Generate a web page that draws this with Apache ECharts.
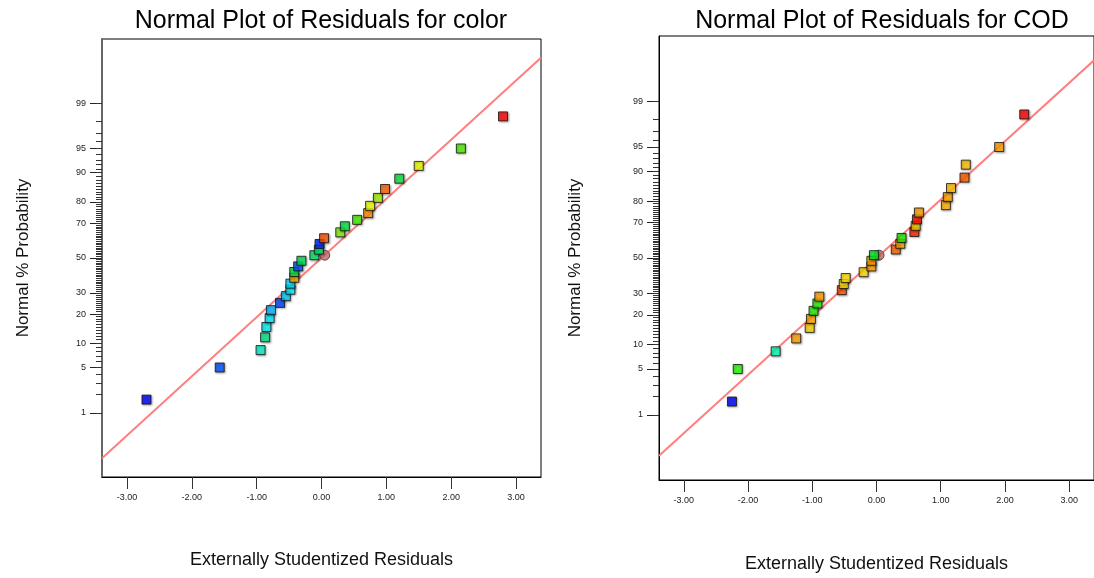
<!DOCTYPE html>
<html>
<head>
<meta charset="utf-8">
<script src="https://cdn.jsdelivr.net/npm/echarts@6/dist/echarts.min.js"></script>
<style>
html, body { margin: 0; padding: 0; background: #fff; }
#chart { width: 1094px; height: 578px; }
</style>
</head>
<body>
<div id="chart"></div>
<script>
// normal % probability of the ranked runs (30 runs, same for both plots)
var probPct = [1.67, 5, 8.33, 11.67, 15, 18.33, 21.67, 25, 28.33, 31.67,
    35, 38.33, 41.67, 45, 48.33, 51.67, 55, 58.33, 61.67, 65,
    68.33, 71.67, 75, 78.33, 81.67, 85, 88.33, 91.67, 95, 98.33];
// externally studentized residuals, sorted
var colorResid = [-2.70, -1.57, -0.94, -0.87, -0.85, -0.80, -0.78, -0.64, -0.55, -0.48,
    -0.48, -0.42, -0.42, -0.36, -0.31, -0.11, -0.04, -0.03, 0.04, 0.29,
    0.36, 0.55, 0.72, 0.75, 0.87, 0.98, 1.20, 1.50, 2.15, 2.80];
var codResid = [-2.25, -2.16, -1.57, -1.25, -1.04, -1.02, -0.98, -0.92, -0.89, -0.54,
    -0.51, -0.48, -0.20, -0.08, -0.08, -0.04, 0.30, 0.37, 0.39, 0.59,
    0.61, 0.63, 0.66, 1.08, 1.11, 1.16, 1.37, 1.39, 1.91, 2.30];
// centre point marker [residual, %]
var colorCenter = [0.05, 51.67];
var codCenter = [0.04, 51.67];
// normal reference line ends [residual, %]
var colorLine = [[-3.386, 0.131], [3.386, 99.869]];
var codLine = [[-3.386, 0.17], [3.386, 99.83]];
// tick labels
var probTicks = [1, 5, 10, 20, 30, 50, 70, 80, 90, 95, 99];
var residTicks = [-3, -2, -1, 0, 1, 2, 3];

// fill of each point (coloured by response level)
var colorFills = ['#0000ff', '#0050ff', '#00f0c8', '#00e080', '#00f0f0', '#00e8ff', '#00b4ff', '#0040ff', '#00c8ff', '#00f0ff',
    '#00e0ff', '#ffb000', '#00e040', '#0050ff', '#00e050', '#00e060', '#00e870', '#0020ff', '#ff5000', '#80f000',
    '#00e840', '#40f000', '#ff9000', '#f0ff00', '#a0f000', '#ff6000', '#10e040', '#e8ff00', '#50f000', '#ff0000'];
var codFills = ['#0000ff', '#20ff00', '#00ffb0', '#ffa000', '#ffd000', '#ffa000', '#20f000', '#20f000', '#ffa000', '#ff5000',
    '#ffe000', '#ffe000', '#ffd800', '#ffa000', '#ffa000', '#00f020', '#ff6000', '#ffa000', '#20f000', '#ff2000',
    '#ffd000', '#ff1000', '#ffa000', '#ffb000', '#ffa000', '#ffc000', '#ff6000', '#ffc000', '#ffa000', '#ff0000'];

var FONT = 'Liberation Sans, Arial, sans-serif';

// inverse normal cdf (Acklam) - probability scale of the y axis
function probit(p) {
    var a = [-3.969683028665376e+01, 2.209460984245205e+02, -2.759285104469687e+02, 1.383577518672690e+02, -3.066479806614716e+01, 2.506628277459239e+00];
    var b = [-5.447609879822406e+01, 1.615858368580409e+02, -1.556989798598866e+02, 6.680131188771972e+01, -1.328068155288572e+01];
    var c = [-7.784894002430293e-03, -3.223964580411365e-01, -2.400758277161838e+00, -2.549732539343734e+00, 4.374664141464968e+00, 2.938163982698783e+00];
    var d = [7.784695709041462e-03, 3.224671290700398e-01, 2.445134137142996e+00, 3.754408661907416e+00];
    var pl = 0.02425, q, r;
    if (p < pl) {
        q = Math.sqrt(-2 * Math.log(p));
        return (((((c[0] * q + c[1]) * q + c[2]) * q + c[3]) * q + c[4]) * q + c[5]) / ((((d[0] * q + d[1]) * q + d[2]) * q + d[3]) * q + 1);
    }
    if (p > 1 - pl) {
        q = Math.sqrt(-2 * Math.log(1 - p));
        return -(((((c[0] * q + c[1]) * q + c[2]) * q + c[3]) * q + c[4]) * q + c[5]) / ((((d[0] * q + d[1]) * q + d[2]) * q + d[3]) * q + 1);
    }
    q = p - 0.5;
    r = q * q;
    return (((((a[0] * r + a[1]) * r + a[2]) * r + a[3]) * r + a[4]) * r + a[5]) * q / (((((b[0] * r + b[1]) * r + b[2]) * r + b[3]) * r + b[4]) * r + 1);
}

var majorZ = probTicks.map(function (p) { return probit(p / 100); });
var minorZ = [];
for (var k = 1; k <= 99; k++) {
    minorZ.push(probit(k / 100));
}

function probLabel(v) {
    for (var i = 0; i < majorZ.length; i++) {
        if (Math.abs(majorZ[i] - v) < 1e-6) return String(probTicks[i]);
    }
    return '';
}

function toZ(resid) {
    return resid.map(function (x, i) { return [x, probit(probPct[i] / 100)]; });
}

function makeX(gridIndex, nameGap) {
    return {
        gridIndex: gridIndex,
        type: 'value',
        position: 'bottom',
        min: -3.386,
        max: 3.386,
        name: 'Externally Studentized Residuals',
        nameLocation: 'middle',
        nameGap: nameGap,
        nameTextStyle: { fontFamily: FONT, fontSize: 18, color: '#111' },
        axisLine: { show: true, onZero: false, lineStyle: { color: '#000', width: 1 } },
        axisTick: { show: true, customValues: residTicks, length: 12, lineStyle: { color: '#333', width: 1 } },
        axisLabel: {
            customValues: residTicks,
            fontFamily: FONT, fontSize: 9, color: '#222', margin: 16,
            formatter: function (v) { return v.toFixed(2); }
        },
        splitLine: { show: false }
    };
}

function makeY(gridIndex, nameGap, lineColor, lineWidth) {
    return [{
        gridIndex: gridIndex,
        type: 'value',
        position: 'left',
        min: -3.29,
        max: 3.29,
        name: 'Normal % Probability',
        nameLocation: 'middle',
        nameGap: nameGap,
        nameTextStyle: { fontFamily: FONT, fontSize: 17, color: '#111' },
        axisLine: { show: true, onZero: false, lineStyle: { color: lineColor, width: lineWidth } },
        axisTick: { show: true, customValues: majorZ, length: 12, lineStyle: { color: '#222', width: 1 } },
        axisLabel: {
            customValues: majorZ,
            fontFamily: FONT, fontSize: 9, color: '#222', margin: 16,
            formatter: probLabel
        },
        splitLine: { show: false }
    }, {
        // minor ticks at every whole percent
        gridIndex: gridIndex,
        type: 'value',
        position: 'left',
        min: -3.29,
        max: 3.29,
        axisLine: { show: false, onZero: false },
        axisTick: { show: true, customValues: minorZ, length: 6, lineStyle: { color: '#333', width: 1 } },
        axisLabel: { show: false },
        splitLine: { show: false }
    }];
}

function makeSeries(axisIdx, yIdx, line, center, resid, fills) {
    return [{
        type: 'line',
        xAxisIndex: axisIdx,
        yAxisIndex: yIdx,
        data: line.map(function (d) { return [d[0], probit(d[1] / 100)]; }),
        symbol: 'none',
        silent: true,
        lineStyle: { color: '#ff7f7f', width: 2 },
        z: 1
    }, {
        type: 'scatter',
        xAxisIndex: axisIdx,
        yAxisIndex: yIdx,
        data: [[center[0], probit(center[1] / 100)]],
        symbol: 'circle',
        symbolSize: 10,
        itemStyle: { color: '#c06462', borderColor: '#333', borderWidth: 1 },
        z: 2
    }, {
        type: 'scatter',
        xAxisIndex: axisIdx,
        yAxisIndex: yIdx,
        data: toZ(resid),
        symbol: 'rect',
        symbolSize: 9,
        itemStyle: {
            color: function (p) { return fills[p.dataIndex]; },
            borderColor: '#111',
            borderWidth: 1,
            shadowColor: 'rgba(0,0,0,0.35)',
            shadowBlur: 2,
            shadowOffsetX: 1,
            shadowOffsetY: 1
        },
        z: 3
    }];
}

var chart = echarts.init(document.getElementById('chart'));
var yLeft = makeY(0, 70, '#666', 2);
var yRight = makeY(1, 75, '#000', 1);

chart.setOption({
    animation: false,
    backgroundColor: '#fff',
    grid: [
        { left: 102, top: 39, width: 439, height: 438, show: true, borderColor: '#000', borderWidth: 1, backgroundColor: '#fff' },
        { left: 659, top: 36, width: 447, height: 447, show: true, borderColor: '#000', borderWidth: 1, backgroundColor: '#fff' }
    ],
    xAxis: [makeX(0, 74), makeX(1, 75)],
    yAxis: yLeft.concat(yRight),
    series: makeSeries(0, 0, colorLine, colorCenter, colorResid, colorFills)
        .concat(makeSeries(1, 2, codLine, codCenter, codResid, codFills)),
    graphic: [
        {
            type: 'text', x: 321, y: 21,
            style: { text: 'Normal Plot of Residuals for color', font: '25px ' + FONT, fill: '#000', align: 'center', verticalAlign: 'middle' }
        },
        {
            type: 'text', x: 882, y: 21,
            style: { text: 'Normal Plot of Residuals for COD', font: '25px ' + FONT, fill: '#000', align: 'center', verticalAlign: 'middle' }
        }
    ]
});
</script>
</body>
</html>
